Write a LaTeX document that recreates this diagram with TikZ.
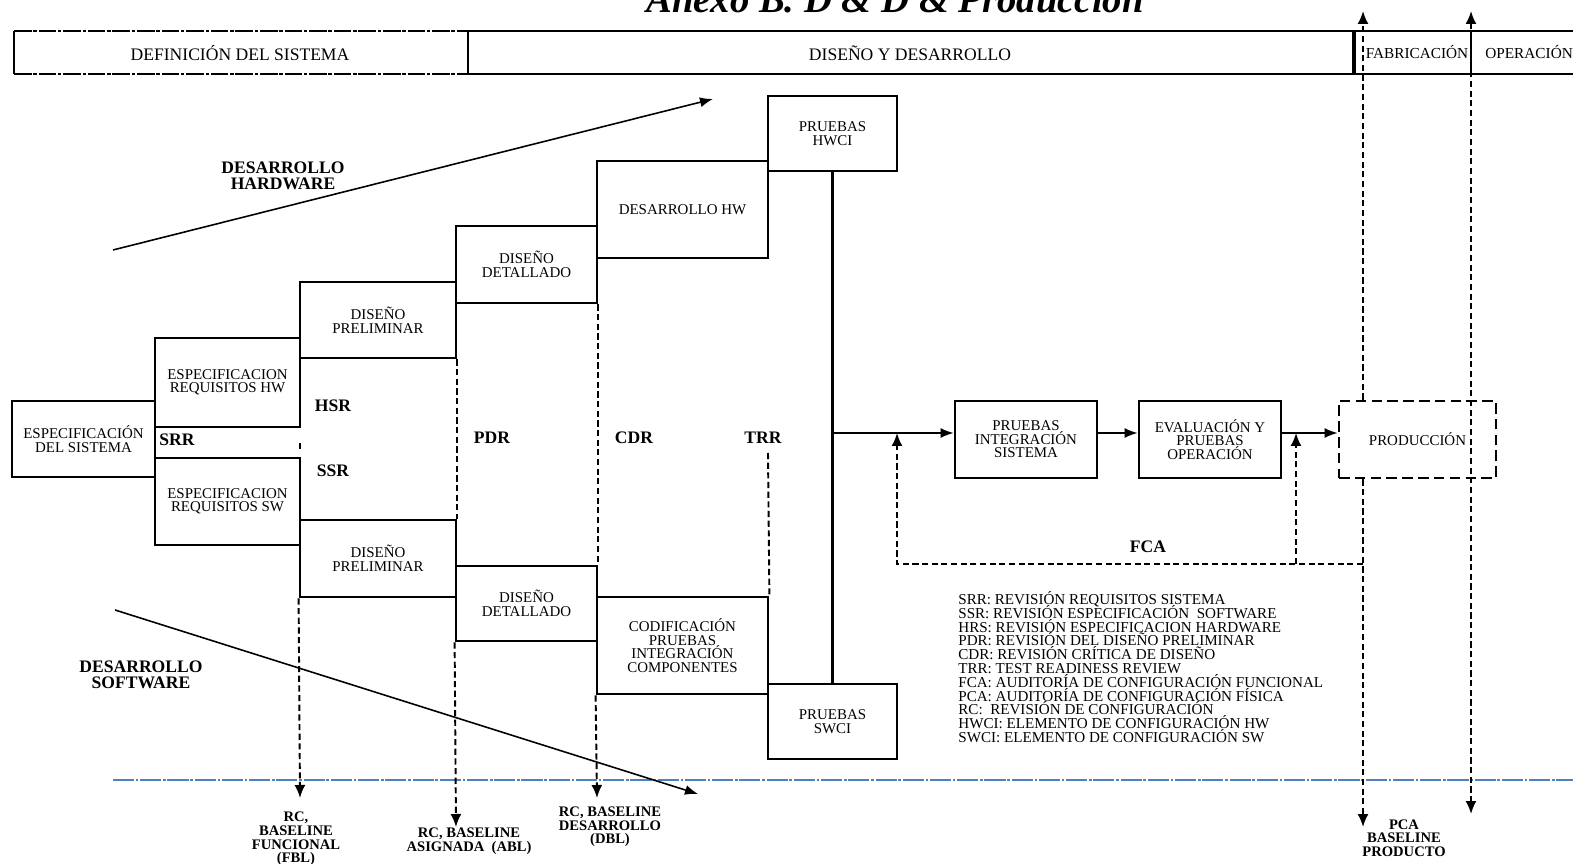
\documentclass[tikz,border=0pt]{standalone}
\usepackage{fontspec}
\setmainfont{Liberation Serif}
\usepackage{xcolor}
\usepackage{tikz}
\usetikzlibrary{arrows.meta,positioning,calc}
\definecolor{azulLinea}{RGB}{79,129,189}

\begin{document}
\begin{tikzpicture}[
  x=0.02cm, y=-0.02cm,
  caja/.style={draw=black, line width=1.6pt, align=center, inner sep=1pt, font=\fontsize{8.5}{7.7}\selectfont},
  etiq/.style={font=\fontsize{10}{9.2}\selectfont\bfseries, align=center, inner sep=0pt},
  basel/.style={font=\fontsize{8.3}{7.8}\selectfont\bfseries, align=center, inner sep=0pt},
  leyenda/.style={font=\fontsize{8.6}{8}\selectfont, anchor=base west, inner sep=0pt},
  cab/.style={font=\fontsize{10}{10}\selectfont, inner sep=0pt},
  cabchica/.style={font=\fontsize{8.7}{8.7}\selectfont, inner sep=0pt},
  flecha/.style={line width=0.9pt, -{Latex[length=2.6mm,width=2mm]}},
  discont/.style={line width=1.1pt, dash pattern=on 3.5pt off 2pt},
  hito/.style={discont, -{Latex[length=2.6mm,width=2.2mm]}},
  hitodoble/.style={discont, {Latex[length=2.6mm,width=2.2mm]}-{Latex[length=2.6mm,width=2.2mm]}}
]
\useasboundingbox (0,0) rectangle (1573,864);

% Title, cut by the page top.
\node[font=\fontsize{22}{22}\selectfont\bfseries\itshape, anchor=base] (titulo) at (895,13) {Anexo B. D \& D \& Producción};

% Header bar.
\draw[line width=1.6pt] (14,31) -- (14,74);
\draw[line width=1.5pt, dash pattern=on 10pt off 1pt on 2pt off 1pt] (14,31) -- (468,31) (14,74) -- (468,74);
\draw[line width=1.5pt] (468,31) -- (1573,31) (468,74) -- (1573,74) (468,31) -- (468,74) (1471,31) -- (1471,74);
\draw[line width=2.2pt] (1354,31) -- (1354,74);
\node[cab] (defSis) at (240,53) {DEFINICIÓN DEL SISTEMA};
\node[cab] (disDes) at (910,53) {DISEÑO Y DESARROLLO};
\node[cabchica] (fabr) at (1417,52) {FABRICACIÓN};
\node[cabchica, anchor=west] (oper) at (1485,52) {OPERACIÓN};

% Baseline marker.
\draw[line width=1.2pt, azulLinea, dash pattern=on 12pt off 1pt on 1.5pt off 1pt] (113,780) -- (1573,780);

% Staircase boxes.
\node[caja, minimum width=2.86cm, minimum height=1.52cm] (espSis) at (83.5,439) {ESPECIFICACIÓN\\DEL SISTEMA};
\node[caja, minimum width=2.90cm, minimum height=1.78cm] (reqHW) at (227.5,382.5) {ESPECIFICACION\\REQUISITOS HW};
\node[caja, minimum width=2.90cm, minimum height=1.74cm] (reqSW) at (227.5,501.5) {ESPECIFICACION\\REQUISITOS SW};
\node[caja, minimum width=3.12cm, minimum height=1.52cm] (prelHW) at (378,320) {DISEÑO\\PRELIMINAR};
\node[caja, minimum width=3.12cm, minimum height=1.54cm] (prelSW) at (378,558.5) {DISEÑO\\PRELIMINAR};
\node[caja, minimum width=2.82cm, minimum height=1.54cm] (detHW) at (526.5,264.5) {DISEÑO\\DETALLADO};
\node[caja, minimum width=2.82cm, minimum height=1.50cm] (detSW) at (526.5,603.5) {DISEÑO\\DETALLADO};
\node[caja, minimum width=3.42cm, minimum height=1.94cm] (desHW) at (682.5,209.5) {DESARROLLO HW};
\node[caja, minimum width=3.42cm, minimum height=1.94cm] (codSW) at (682.5,645.5) {CODIFICACIÓN\\PRUEBAS\\INTEGRACIÓN\\COMPONENTES};
\node[caja, minimum width=2.58cm, minimum height=1.50cm] (pruHW) at (832.5,133.5) {PRUEBAS\\HWCI};
\node[caja, minimum width=2.58cm, minimum height=1.50cm] (pruSW) at (832.5,721.5) {PRUEBAS\\SWCI};

% Integration chain.
\node[caja, minimum width=2.84cm, minimum height=1.54cm] (pruInt) at (1026,439.5) {PRUEBAS\\INTEGRACIÓN\\SISTEMA};
\node[caja, minimum width=2.84cm, minimum height=1.54cm] (evalOp) at (1210,439.5) {EVALUACIÓN Y\\PRUEBAS\\OPERACIÓN};
\node[caja, dash pattern=on 6pt off 3pt, minimum width=3.14cm, minimum height=1.54cm] (prod) at (1417.5,439.5) {PRODUCCIÓN};

\coordinate (tronco) at (832.5,433);
\draw[line width=1.6pt] (pruHW.south) -- (pruSW.north);
\draw[flecha] (tronco) -- (tronco -| pruInt.west);
\draw[flecha] (pruInt.east |- tronco) -- (evalOp.west |- tronco);
\draw[flecha] (evalOp.east |- tronco) -- (prod.west |- tronco);

% Review labels.
\node[etiq] (srr) at (177,440) {SRR};
\node[etiq] (hsr) at (333,406) {HSR};
\node[etiq] (ssr) at (333,471) {SSR};
\node[etiq] (pdr) at (492,438) {PDR};
\node[etiq] (cdr) at (634,438) {CDR};
\node[etiq] (trr) at (763,438) {TRR};
\node[etiq] (fca) at (1148,547) {FCA};

% Review dashes.
\coordinate (trrIni) at (768,453);
\draw[discont] (300,443) -- (300,452);
\draw[discont] (prelHW.south east) -- (prelSW.north east);
\draw[discont] (detHW.south east) -- (detSW.north east);
\draw[discont] (trrIni) -- (codSW.north east);

% Baselines.
\coordinate (fbl) at (300,798);
\coordinate (abl) at (456,827);
\coordinate (dbl) at (597,798);
\draw[hito] (prelSW.south west) -- (fbl);
\draw[hito] (detSW.south west) -- (abl);
\draw[hito] (codSW.south west) -- (dbl);
\node[basel] (fblTxt) at (296,839) {RC,\\BASELINE\\FUNCIONAL\\(FBL)};
\node[basel] (ablTxt) at (469,841) {RC, BASELINE\\ASIGNADA\ \ (ABL)};
\node[basel] (dblTxt) at (610,827) {RC, BASELINE\\DESARROLLO\\(DBL)};
\node[basel] (pcaTxt) at (1404,838) {PCA\\BASELINE\\PRODUCTO};

% Phase limits.
\coordinate (fabArr) at (1363,11);
\coordinate (fabAb) at (1363,827);
\coordinate (opArr) at (1471,11);
\coordinate (opAb) at (1471,814);
\draw[hito] (prod.north -| fabArr) -- (fabArr);
\draw[hito] (prod.south -| fabAb) -- (fabAb);
\draw[hitodoble] (opArr) -- (opAb);

% FCA feedback.
\coordinate (fcaDer) at (1363,564);
\coordinate (ret1) at (897,433);
\coordinate (ret2) at (1296,433);
\draw[hito] (fcaDer) -| (ret1);
\draw[hito] (ret2 |- fcaDer) -- (ret2);

% Development trends.
\coordinate (hwIni) at (113,250);
\coordinate (hwFin) at (713,99);
\coordinate (swIni) at (115,610);
\coordinate (swFin) at (698,794);
\draw[flecha] (hwIni) -- (hwFin);
\draw[flecha] (swIni) -- (swFin);
\node[etiq] (desHWtxt) at (283,176) {DESARROLLO\\HARDWARE};
\node[etiq] (desSWtxt) at (141,675) {DESARROLLO\\SOFTWARE};

% Legend.
\foreach \txt [count=\i from 0] in {SRR: REVISIÓN REQUISITOS SISTEMA, SSR: REVISIÓN ESPECIFICACIÓN\ \ SOFTWARE, HRS: REVISIÓN ESPECIFICACION HARDWARE, PDR: REVISIÓN DEL DISEÑO PRELIMINAR, CDR: REVISIÓN CRÍTICA DE DISEÑO, TRR: TEST READINESS REVIEW, FCA: AUDITORÍA DE CONFIGURACIÓN FUNCIONAL, PCA: AUDITORÍA DE CONFIGURACIÓN FÍSICA, RC:\ \ REVISIÓN DE CONFIGURACIÓN, HWCI: ELEMENTO DE CONFIGURACIÓN HW, SWCI: ELEMENTO DE CONFIGURACIÓN SW} {
  \node[leyenda] (ley\i) at (958,{604.5+13.8*\i}) {\txt};
}
\end{tikzpicture}
\end{document}
